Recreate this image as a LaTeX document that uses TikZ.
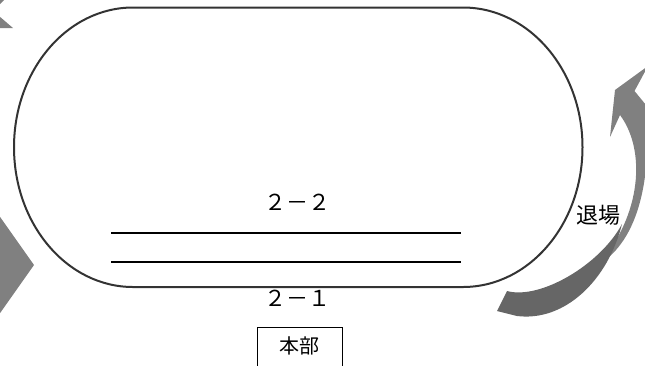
\documentclass[tikz,border=0pt]{standalone}
\usepackage{fontspec}
\newfontfamily\jp{Noto Sans CJK JP}
\definecolor{arrowlight}{HTML}{808080}
\definecolor{arrowdark}{HTML}{666666}
\begin{document}
\begin{tikzpicture}[x=1pt,y=-1pt,
  trackline/.style={draw=black!80,line width=2pt},
  laneline/.style={draw=black,line width=2pt},
  boxline/.style={draw=black,line width=0.9pt},
  lightarrow/.style={fill=arrowlight},
  darkarrow/.style={fill=arrowdark},
  biglabel/.style={font=\jp\fontsize{22}{22}\selectfont,inner sep=0pt},
  boxlabel/.style={font=\jp\fontsize{20}{20}\selectfont,inner sep=0pt}]
\useasboundingbox (0,0) rectangle (645,365);
% track
\draw[trackline] (133,7.5) -- (463,7.5)
  arc[start angle=-90,end angle=90,x radius=119.5,y radius=139.75]
  -- (133,287)
  arc[start angle=90,end angle=270,x radius=119,y radius=139.75] -- cycle;
% lanes
\coordinate (la1) at (111,232.5); \coordinate (la2) at (461,232.5);
\coordinate (lb1) at (111,261.5); \coordinate (lb2) at (461,261.5);
\draw[laneline] (la1) -- (la2);
\draw[laneline] (lb1) -- (lb2);
% labels
\node[biglabel] (l22) at (297,202) {２－２};
\node[biglabel] (l21) at (297,298) {２－１};
\node[biglabel] (exit) at (598,215) {退場};
% HQ box
\draw[boxline] (257,372) -- (257,327) -- (342,327) -- (342,372);
\node[boxlabel] (hq) at (299.5,345.5) {本部};
% left arrows
\fill[lightarrow] (-2,214) -- (34,265) -- (-2,316) -- cycle;
\fill[lightarrow] (-1,16) -- (13,28) -- (-1,28) -- cycle;
\fill[lightarrow] (-1,-1) -- (5,-1) -- (-1,5) -- cycle;
% right curved arrow
\fill[lightarrow] (598,265) .. controls (640,240) and (652,175) .. (646,105)
  -- (634.5,91) -- (648,66) -- (615,90) -- (610,137) -- (620,115)
  .. controls (646,150) and (642,215) .. (598,265) -- cycle;
\fill[darkarrow] (497,311) -- (507,291) .. controls (540,300) and (600,265) .. (622,224)
  .. controls (608,280) and (565,322) .. (517,316) -- cycle;
\end{tikzpicture}
\end{document}
